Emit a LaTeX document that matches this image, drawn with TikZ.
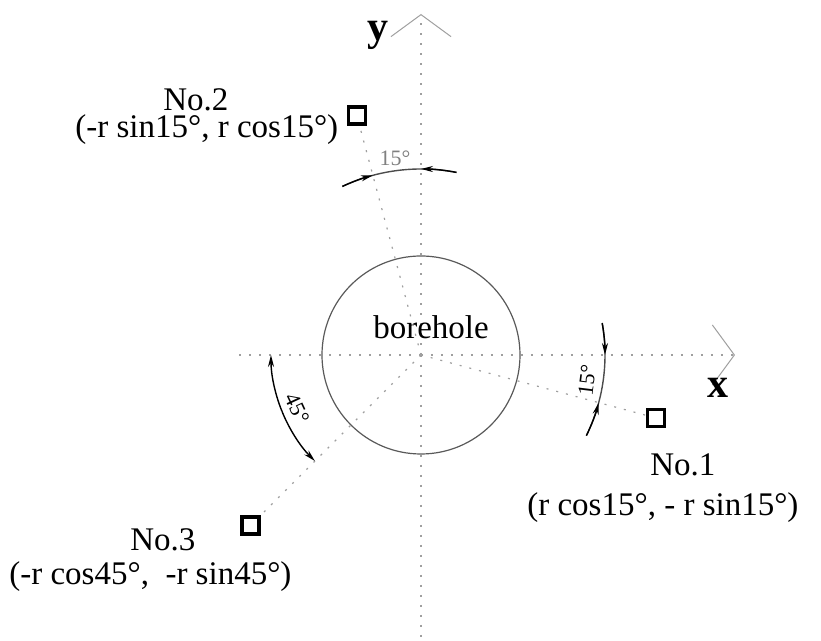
\documentclass[tikz,border=0pt]{standalone}
\usepackage{fontspec}
\setmainfont{Liberation Serif}
\usetikzlibrary{arrows.meta,calc}

\begin{document}
\begin{tikzpicture}[
    x=0.5pt, y=0.5pt,
    axis/.style={gray!75, line width=0.6pt, dash pattern=on 1pt off 4pt, -{Straight Barb[length=11pt, width=30pt, line width=0.5pt]}},
    ray/.style={gray!75, line width=0.6pt, dash pattern=on 1pt off 4pt},
    dimarc/.style={black!70, line width=0.7pt},
    dimtip/.style={black, line width=0.7pt, -{Stealth[length=6pt, width=3pt]}},
    station/.style={draw, line width=1.6pt, minimum size=8.5pt, inner sep=0pt},
    lbl/.style={font=\fontsize{16.5}{19}\selectfont, inner sep=0pt},
    ang/.style={font=\fontsize{11}{13}\selectfont, inner sep=0pt},
    axl/.style={font=\fontsize{21}{24}\selectfont\bfseries, inner sep=0pt}
]
\useasboundingbox (-421,-286) rectangle (400,355);
\coordinate (O) at (0,0);
\coordinate (xl) at (-183,0);
\coordinate (xr) at (314,0);
\coordinate (yb) at (0,-290);
\coordinate (yt) at (0,341);

% axes
\draw[ray] (O) -- (xl);
\draw[axis] (O) -- (xr);
\draw[ray] (O) -- (yb);
\draw[axis] (O) -- (yt);
\node[axl] (ylab) at (-43,320) {y};
\node[axl] (xlab) at (297,-33) {x};

% borehole
\node[draw=black!65, line width=0.6pt, circle, minimum size=99pt, inner sep=0pt] (bore) at (O) {};
\node[lbl] (bname) at (10,28) {borehole};

% stations
\node[station] (s1) at (-15:243) {};
\node[station] (s2) at (105:248) {};
\node[station] (s3) at (225:241) {};
\draw[ray] (O) -- (s1);
\draw[ray] (O) -- (s2);
\draw[ray] (O) -- (s3);

\node[lbl, anchor=west] (n1) at (229,-110) {No.1};
\node[lbl, anchor=west] (c1) at (106,-153) {(r cos15°, - r sin15°)};
\node[lbl, anchor=west] (n2) at (-258,255) {No.2};
\node[lbl, anchor=west] (c2) at (-346,225) {(-r sin15°, r cos15°)};
\node[lbl, anchor=west] (n3) at (-291,-185) {No.3};
\node[lbl, anchor=west] (c3) at (-412,-222) {(-r cos45°,~~-r sin45°)};

% angle marks
\draw[dimarc] (79:186) arc[start angle=79, end angle=115, radius=186];
\draw[dimtip] (79:186) arc[start angle=79, end angle=90, radius=186];
\draw[dimtip] (115:186) arc[start angle=115, end angle=105, radius=186];
\node[ang, text=gray] (a2) at (-26,197) {15°};

\draw[dimarc] (10:184) arc[start angle=10, end angle=-26, radius=184];
\draw[dimtip] (10:184) arc[start angle=10, end angle=0, radius=184];
\draw[dimtip] (-26:184) arc[start angle=-26, end angle=-15, radius=184];
\node[ang, rotate=83] (a1) at (166,-25) {15°};

\draw[dimtip] (202:150) arc[start angle=202, end angle=180, radius=150];
\draw[dimtip] (202:150) arc[start angle=202, end angle=225, radius=150];
\node[ang, rotate=-65] (a3) at (-124,-53) {45°};
\end{tikzpicture}
\end{document}
